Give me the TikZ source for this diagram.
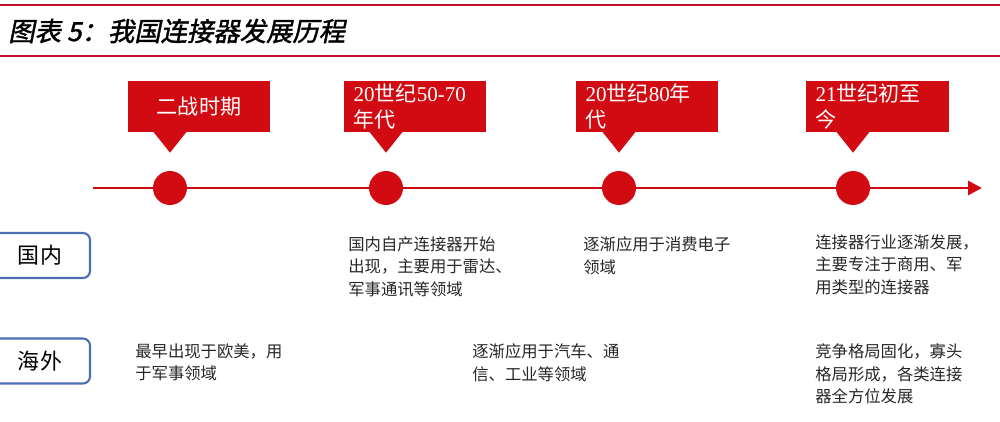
\documentclass[tikz,border=0pt]{standalone}
\usepackage{fontspec}
\setmainfont{Noto Sans CJK SC}
\newfontfamily\latinfont{Liberation Serif}
\newfontfamily\titlefont[FakeSlant=0.2,FakeBold=1.5]{Noto Sans CJK SC}
\usepackage{xcolor}
\usepackage{tikz}
\usetikzlibrary{arrows.meta,positioning,calc}
\definecolor{hdred}{HTML}{C0102B}
\definecolor{tlred}{HTML}{D20A11}
\definecolor{lblue}{HTML}{4A6FB5}
\definecolor{bodygray}{HTML}{262626}
\newcommand{\yr}[1]{{\latinfont #1}}

\begin{document}
\begin{tikzpicture}[
    x=0.02cm, y=-0.02cm,
    callbox/.style={fill=tlred, text=white, minimum width=2.86cm, minimum height=1.02cm, inner sep=0pt, font=\fontsize{12}{15}\selectfont},
    dot/.style={circle, fill=tlred, minimum size=0.68cm, inner sep=0pt},
    sidebox/.style={draw=lblue, line width=1.2pt, rounded corners=4pt, fill=white, minimum width=2cm, minimum height=0.9cm, font=\fontsize{12.5}{14}\selectfont},
    note/.style={anchor=north west, inner sep=0pt, align=left, text=bodygray, font=\fontsize{9.3}{13}\selectfont}
]
    \useasboundingbox (0,0) rectangle (1000,422);
    \clip (0,0) rectangle (1000,422);

    % Header
    \draw[hdred, line width=1pt] (0,5) -- (1000,5);
    \draw[hdred, line width=1pt] (0,56) -- (1000,56);
    \node[anchor=west, inner sep=0pt, font=\titlefont\fontsize{15}{17}\selectfont] (title) at (8,31) {图表 5：我国连接器发展历程};

    % Timeline
    \coordinate (start) at (93,188);
    \coordinate (end) at (982,188);
    \draw[tlred, line width=1.7pt, -{Triangle[length=0.28cm,width=0.28cm]}] (start) -- (end);
    \node[dot] (p1) at (170,188) {};
    \node[dot] (p2) at (386,188) {};
    \node[dot] (p3) at (619,188) {};
    \node[dot] (p4) at (853,188) {};

    % Period callouts
    \node[callbox, align=center] (b1) at (199,106.5) {二战时期};
    \node[callbox, text width=2.46cm, align=left] (b2) at (415,106.5) {\yr{20}世纪\yr{50-70}\\年代};
    \node[callbox, text width=2.46cm, align=left] (b3) at (647,106.5) {\yr{20}世纪\yr{80}年\\代};
    \node[callbox, text width=2.46cm, align=left] (b4) at (877,106.5) {\yr{21}世纪初至\\今};
    \foreach \i in {1,...,4} {
        \coordinate (t\i) at ($(p\i.north)+(0,-18)$);
        \fill[tlred] ($(b\i.south -| t\i)+(-17,-1)$) -- (t\i) -- ($(b\i.south -| t\i)+(17,-1)$) -- cycle;
    }

    % Row labels
    \node[sidebox] (dom) at (40,255.5) {国\hspace{1pt}内};
    \node[sidebox] (ovs) at (40,361) {海\hspace{1pt}外};

    % Domestic
    \node[note] (d2) at (348,236) {国内自产连接器开始\\出现，主要用于雷达、\\军事通讯等领域};
    \node[note] (d3) at (583,236) {逐渐应用于消费电子\\领域};
    \node[note] (d4) at (815,234) {连接器行业逐渐发展，\\主要专注于商用、军\\用类型的连接器};

    % Overseas
    \node[note] (o1) at (135,343) {最早出现于欧美，用\\于军事领域};
    \node[note] (o3) at (472,343) {逐渐应用于汽车、通\\信、工业等领域};
    \node[note] (o4) at (815,343) {竞争格局固化，寡头\\格局形成，各类连接\\器全方位发展};
\end{tikzpicture}
\end{document}
